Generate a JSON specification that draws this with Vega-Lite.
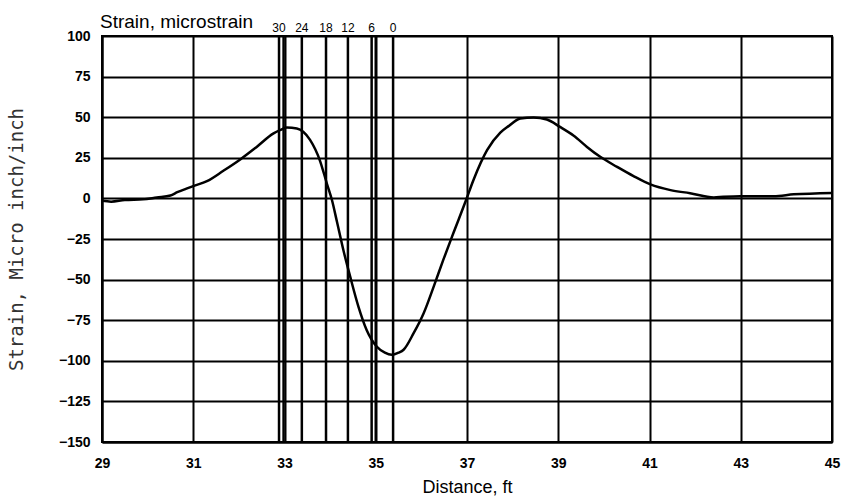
{
  "$schema": "https://vega.github.io/schema/vega-lite/v6.json",
  "width": 730,
  "height": 406,
  "autosize": {"type": "none"},
  "padding": {"left": 102, "top": 36, "right": 11, "bottom": 60},
  "background": "white",
  "title": {
    "text": "Strain, microstrain",
    "anchor": "start",
    "frame": "group",
    "font": "Liberation Sans",
    "fontSize": 19,
    "fontWeight": "normal",
    "color": "black",
    "offset": 6,
    "dx": -2,
    "dy": 16
  },
  "config": {
    "view": {"stroke": "black", "strokeWidth": 2},
    "axis": {
      "domainColor": "black",
      "domainWidth": 2,
      "grid": true,
      "gridColor": "black",
      "gridWidth": 2,
      "gridOpacity": 1,
      "ticks": false,
      "labelFont": "Liberation Sans",
      "labelFontWeight": "bold",
      "labelFontSize": 14,
      "labelColor": "black"
    }
  },
  "datasets": {
    "curve": [
      {"distance": 29.0, "strain": -1.5},
      {"distance": 29.2, "strain": -2},
      {"distance": 29.5, "strain": -1},
      {"distance": 29.9, "strain": -0.6},
      {"distance": 30.2, "strain": 0.6},
      {"distance": 30.5, "strain": 1.8},
      {"distance": 30.65, "strain": 3.8},
      {"distance": 30.85, "strain": 6},
      {"distance": 31.0, "strain": 7.6},
      {"distance": 31.3, "strain": 10.6},
      {"distance": 31.66, "strain": 17},
      {"distance": 32.03, "strain": 24},
      {"distance": 32.39, "strain": 31.7},
      {"distance": 32.76, "strain": 40},
      {"distance": 32.9, "strain": 42},
      {"distance": 33.05, "strain": 43.6},
      {"distance": 33.27, "strain": 43},
      {"distance": 33.41, "strain": 41},
      {"distance": 33.56, "strain": 36},
      {"distance": 33.78, "strain": 23},
      {"distance": 33.93, "strain": 9},
      {"distance": 34.04, "strain": -1},
      {"distance": 34.15, "strain": -14.4},
      {"distance": 34.29, "strain": -31.8},
      {"distance": 34.44, "strain": -48.2},
      {"distance": 34.62, "strain": -66.6},
      {"distance": 34.8, "strain": -81},
      {"distance": 35.02, "strain": -91.2},
      {"distance": 35.2, "strain": -95},
      {"distance": 35.35, "strain": -96.3},
      {"distance": 35.5, "strain": -95},
      {"distance": 35.61, "strain": -93.2},
      {"distance": 35.83, "strain": -83},
      {"distance": 36.05, "strain": -70.7},
      {"distance": 36.27, "strain": -54.3},
      {"distance": 36.48, "strain": -37.9},
      {"distance": 36.7, "strain": -21.5},
      {"distance": 36.98, "strain": -1},
      {"distance": 37.14, "strain": 11.2},
      {"distance": 37.44, "strain": 29.7},
      {"distance": 37.73, "strain": 40.5},
      {"distance": 37.91, "strain": 44.5},
      {"distance": 38.17, "strain": 49.2},
      {"distance": 38.46, "strain": 49.8},
      {"distance": 38.75, "strain": 48.6},
      {"distance": 39.04, "strain": 44},
      {"distance": 39.34, "strain": 38.6},
      {"distance": 39.63, "strain": 31.7},
      {"distance": 39.92, "strain": 25.6},
      {"distance": 40.29, "strain": 19.4},
      {"distance": 40.65, "strain": 13.7},
      {"distance": 41.02, "strain": 8.6},
      {"distance": 41.46, "strain": 5.1},
      {"distance": 41.89, "strain": 3.2},
      {"distance": 42.41, "strain": 0.6},
      {"distance": 42.62, "strain": 1},
      {"distance": 42.99, "strain": 1.4},
      {"distance": 43.72, "strain": 1.4},
      {"distance": 44.16, "strain": 2.5},
      {"distance": 45.0, "strain": 3.4}
    ],
    "gauges": [
      {"distance": 32.88, "label": "30"},
      {"distance": 32.98, "label": ""},
      {"distance": 33.38, "label": "24"},
      {"distance": 33.91, "label": "18"},
      {"distance": 34.39, "label": "12"},
      {"distance": 34.91, "label": "6"},
      {"distance": 35.0, "label": ""},
      {"distance": 35.38, "label": "0"}
    ]
  },
  "layer": [
    {
      "data": {"name": "gauges"},
      "mark": {"type": "rule", "color": "black", "strokeWidth": 2.5},
      "encoding": {
        "x": {
          "field": "distance",
          "type": "quantitative",
          "scale": {"domain": [29, 45], "nice": false, "zero": false},
          "axis": {
            "values": [29, 31, 33, 35, 37, 39, 41, 43, 45],
            "grid": true,
            "title": "Distance, ft",
            "titleFont": "Liberation Sans",
            "titleFontSize": 18,
            "titleFontWeight": "normal",
            "titleColor": "black",
            "titlePadding": 8,
            "labelPadding": 14,
            "labelFlush": false
          }
        }
      }
    },
    {
      "data": {"name": "gauges"},
      "mark": {"type": "text", "fontSize": 12, "font": "Liberation Sans", "color": "black", "baseline": "middle"},
      "encoding": {
        "x": {"field": "distance", "type": "quantitative"},
        "y": {"datum": 105},
        "text": {"field": "label"}
      }
    },
    {
      "data": {"name": "curve"},
      "mark": {"type": "line", "color": "black", "strokeWidth": 2.5, "interpolate": "monotone"},
      "encoding": {
        "x": {"field": "distance", "type": "quantitative"},
        "y": {
          "field": "strain",
          "type": "quantitative",
          "scale": {"domain": [-150, 100], "nice": false, "zero": false},
          "axis": {
            "values": [-150, -125, -100, -75, -50, -25, 0, 25, 50, 75, 100],
            "grid": true,
            "title": "Strain, Micro inch/inch",
            "titleFont": "DejaVu Sans Mono",
            "titleFontSize": 19,
            "titleFontWeight": "normal",
            "titleColor": "#333333",
            "titlePadding": 32,
            "labelPadding": 12
          }
        }
      }
    }
  ]
}
